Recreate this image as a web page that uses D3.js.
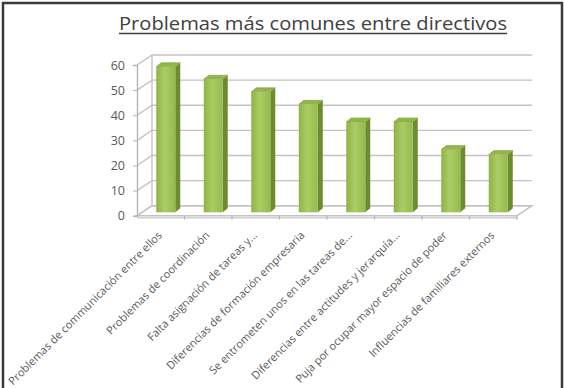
<!DOCTYPE html>
<html>
<head>
<meta charset="utf-8">
<script src="https://cdn.jsdelivr.net/npm/d3@7"></script>
<style>
  body { margin: 0; background: #fff; }
  text { font-family: "Open Sans", sans-serif; }
</style>
</head>
<body>
<div id="chart"></div>
<script>
// datos
var categorias = [
  "Problemas de communicación entre ellos",
  "Problemas de coordinación",
  "Falta asignación de tareas y...",
  "Diferencias de formación empresaria",
  "Se entrometen unos en las tareas de...",
  "Diferencias entre actitudes y jerarquía...",
  "Puja por ocupar mayor espacio de poder",
  "Influencias de familiares externos"
];
var valores = [58, 53, 48, 43, 36, 36, 25, 23];
var ticksY = [0, 10, 20, 30, 40, 50, 60];

var w = 564, h = 388;
var dx = 15, dy = -10;       // profundidad de las paredes
var t = 1 / 3;               // plano de las barras
var bw = 19, sx = 5, sy = -4; // ancho y lado de barra

var svg = d3.select("#chart")
  .append("svg")
  .attr("width", w)
  .attr("height", h)
  .style("background", "#fff");

// borde
svg.append("path")
  .attr("d", "M3,390 L3,3 L562,3 L562,390")
  .attr("fill", "none")
  .attr("stroke", "#3a3a3a")
  .attr("stroke-width", 2.5);

// titulo
svg.append("text")
  .attr("x", 313)
  .attr("y", 30)
  .attr("text-anchor", "middle")
  .attr("font-size", 18)
  .attr("fill", "#404040")
  .attr("textLength", 388)
  .attr("lengthAdjust", "spacingAndGlyphs")
  .text("Problemas más comunes entre directivos");
svg.append("line")
  .attr("x1", 119).attr("x2", 507)
  .attr("y1", 33.5).attr("y2", 33.5)
  .attr("stroke", "#404040")
  .attr("stroke-width", 1.3);

var x = d3.scaleBand().domain(categorias).range([137, 517]).padding(0);
var y = d3.scaleLinear().domain([0, 60]).range([215.7, 65]);
var step = x.step();

var grid = svg.append("g").attr("stroke", "#c3c3c3").attr("stroke-width", 1.4).attr("fill", "none");

// suelo
grid.append("path")
  .attr("fill", "#fff")
  .attr("d", "M137," + y(0) + " L517," + y(0) + " L" + (517 + dx) + "," + (y(0) + dy) +
    " L" + (137 + dx) + "," + (y(0) + dy) + " Z");
grid.append("line")
  .attr("x1", 137).attr("x2", 517)
  .attr("y1", y(0) + 2).attr("y2", y(0) + 2)
  .attr("stroke", "#d0d0d0");

// lineas de la pared
ticksY.forEach(function(v) {
  grid.append("path")
    .attr("d", "M137," + y(v) + " L" + (137 + dx) + "," + (y(v) + dy) + " L" + (517 + dx) + "," + (y(v) + dy));
});
grid.append("line")
  .attr("x1", 137 + dx).attr("x2", 137 + dx)
  .attr("y1", y(0) + dy).attr("y2", y(60) + dy);

// eje y
var ejeY = svg.append("g")
  .attr("transform", "translate(137,0)")
  .call(d3.axisLeft(y).tickValues(ticksY).tickSize(4).tickPadding(8));
ejeY.select(".domain").attr("stroke", "#b5b5b5").attr("stroke-width", 1.4);
ejeY.selectAll(".tick line").attr("stroke", "#b5b5b5");
ejeY.selectAll("text")
  .attr("font-family", "Open Sans")
  .attr("font-size", 12.5)
  .attr("fill", "#595959");

// marcas del eje x
svg.append("g").selectAll("line")
  .data(categorias)
  .enter()
  .append("line")
  .attr("x1", function(d) { return x(d) + step; })
  .attr("x2", function(d) { return x(d) + step; })
  .attr("y1", y(0))
  .attr("y2", y(0) + 4)
  .attr("stroke", "#b5b5b5")
  .attr("stroke-width", 1.2);

// gradiente
var defs = svg.append("defs");
var grad = defs.append("linearGradient").attr("id", "frente");
grad.append("stop").attr("offset", "0%").attr("stop-color", "#8fb346");
grad.append("stop").attr("offset", "45%").attr("stop-color", "#abcd65");
grad.append("stop").attr("offset", "100%").attr("stop-color", "#96ba4d");

// barras
var g = svg.selectAll("g.barra")
  .data(valores)
  .enter()
  .append("g")
  .attr("class", "barra");

function x0(i) { return x(categorias[i]) + (step - bw) / 2 + t * dx; }
var yb = y(0) + t * dy;
function yt(v) { return y(v) + t * dy; }

g.append("path")
  .attr("fill", "#6c8c2f")
  .attr("d", function(v, i) {
    var a = x0(i) + bw;
    return "M" + a + "," + yt(v) + " L" + (a + sx) + "," + (yt(v) + sy) +
      " L" + (a + sx) + "," + (yb + sy) + " L" + a + "," + yb + " Z";
  });
g.append("path")
  .attr("fill", "#93b64c")
  .attr("stroke", "#7f9f3c")
  .attr("stroke-width", 0.6)
  .attr("d", function(v, i) {
    var a = x0(i);
    return "M" + a + "," + yt(v) + " L" + (a + sx) + "," + (yt(v) + sy) +
      " L" + (a + bw + sx) + "," + (yt(v) + sy) + " L" + (a + bw) + "," + yt(v) + " Z";
  });
g.append("rect")
  .attr("x", function(v, i) { return x0(i); })
  .attr("y", function(v) { return yt(v); })
  .attr("width", bw)
  .attr("height", function(v) { return yb - yt(v); })
  .attr("fill", "url(#frente)");

// etiquetas del eje x
svg.append("g").selectAll("text")
  .data(categorias)
  .enter()
  .append("text")
  .attr("transform", function(d) {
    return "translate(" + (x(d) + step / 2 + 2) + ",236) rotate(-45)";
  })
  .attr("text-anchor", "end")
  .attr("font-size", 11)
  .attr("fill", "#595959")
  .text(function(d) { return d; });
</script>
</body>
</html>
